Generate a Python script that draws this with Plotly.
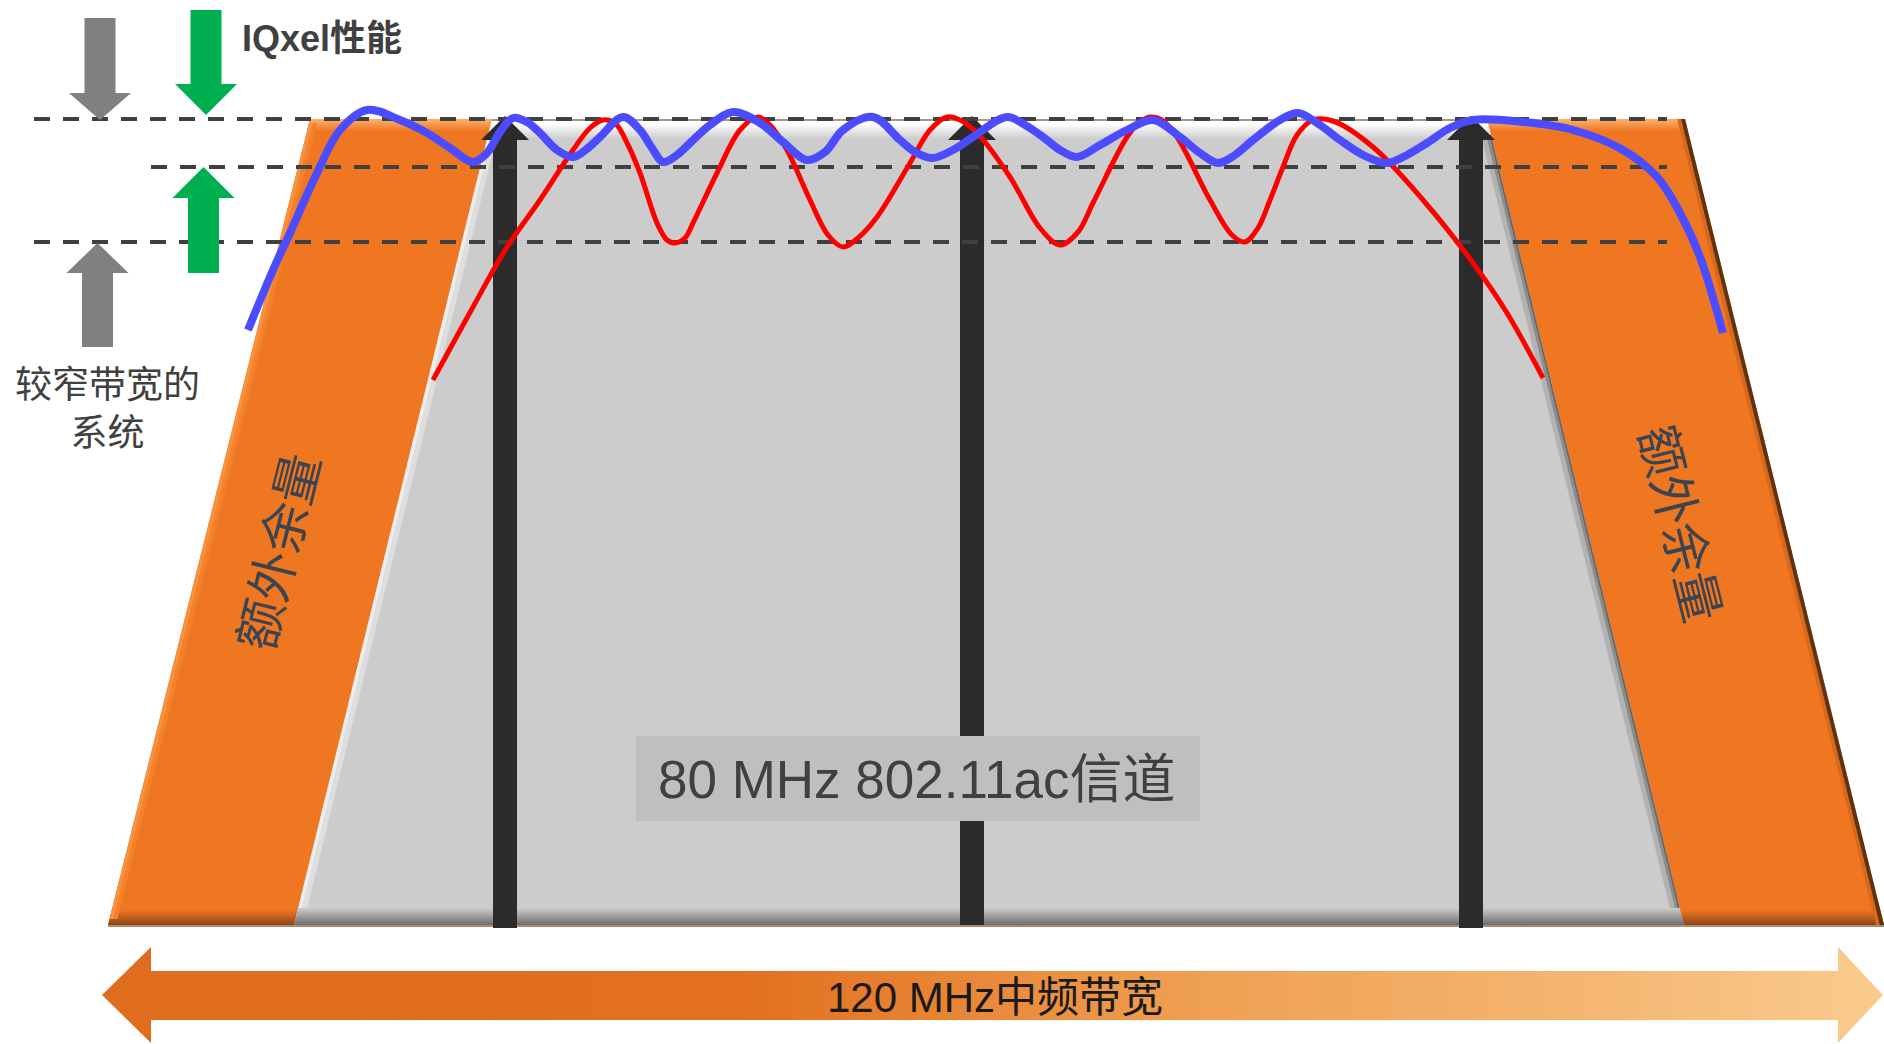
import plotly.graph_objects as go

W, H = 1884, 1044

# ---- response curves (horizontal position, level) in canvas units ----
wide_x = [248, 273, 290, 317, 340, 367, 400, 427, 450, 473, 487, 500, 513, 527, 540, 557,
          573, 588, 600, 623, 640, 652, 663, 677, 690, 710, 733, 760, 783, 807, 825, 843,
          873, 900, 915, 932, 953, 973, 1007, 1025, 1043, 1060, 1077, 1100, 1127, 1153,
          1180, 1200, 1218, 1235, 1253, 1280, 1298, 1320, 1340, 1363, 1387, 1407, 1427,
          1450, 1473, 1523, 1573, 1623, 1657, 1680, 1700, 1723]
wide_y = [330, 270, 233, 173, 130, 110, 120, 133, 148, 162, 153, 132, 118, 122, 133, 150,
          157, 148, 137, 117, 130, 148, 162, 155, 143, 125, 112, 123, 142, 160, 152, 130,
          117, 140, 152, 158, 150, 137, 117, 125, 137, 150, 157, 145, 130, 120,
          137, 153, 163, 155, 140, 120, 113, 125, 140, 155, 163, 155, 143,
          128, 120, 122, 130, 150, 177, 213, 257, 333]

narrow_x = [433, 473, 507, 540, 573, 590, 603, 615, 628, 640, 657, 667, 675, 685, 693, 717,
            740, 758, 770, 787, 810, 828, 843, 858, 877, 910, 930, 947, 960, 977, 1010,
            1040, 1060, 1078, 1093, 1127, 1140, 1150, 1162, 1177, 1210, 1232, 1245, 1258,
            1270, 1283, 1297, 1313, 1333, 1373, 1423, 1473, 1507, 1543]
narrow_y = [380, 307, 247, 200, 150, 128, 120, 123, 145, 173, 223, 240, 243, 238, 223, 173,
            130, 117, 125, 150, 200, 235, 247, 238, 217, 163, 130, 117, 120, 133, 177,
            228, 245, 232, 203, 137, 122, 117, 120, 137, 200, 235, 242, 228,
            200, 167, 135, 120, 121, 147, 200, 263, 313, 378]

# ---- reference levels for dashed guides ----
level_top, level_mid, level_low = 119, 167, 242

# ---- labels ----
label_perf = "<b>IQxel性能</b>"
label_narrow = "较窄带宽的<br>系统"
label_margin = "额外余量"
label_channel = "80 MHz 802.11ac信道"
label_if = "120 MHz中频带宽"

# ---- geometry of the band drawing ----
TOP, BOT = 119, 925
OUT_L = (310, 108)      # outer left edge x at TOP, BOT
OUT_R = (1685, 1884)    # outer right edge
IN_L = (492, 294)       # channel left edge
IN_R = (1487, 1684)     # channel right edge
CARRIERS = [505, 972, 1471]

ORANGE = "#F07722"
GRAY = "#CCCCCC"

fig = go.Figure()


def ex(edge, y):
    """x of a slanted edge at height y"""
    t = (y - TOP) / (BOT - TOP)
    return edge[0] + (edge[1] - edge[0]) * t


def poly(xs, ys, color, grad=None):
    kw = dict(x=list(xs) + [xs[0]], y=list(ys) + [ys[0]], mode="lines", fill="toself",
              line=dict(width=0, color=color), fillcolor=color,
              hoverinfo="skip", showlegend=False)
    if grad is not None:
        kw["fillgradient"] = grad
    fig.add_trace(go.Scatter(**kw))


def vgrad(c0, c1, y0, y1):
    return dict(type="vertical", colorscale=[[0, c0], [1, c1]], start=y0, stop=y1)


def strip(edge, y0, y1, d0, d1, color):
    xs = [ex(edge, y0) + d0, ex(edge, y0) + d1, ex(edge, y1) + d1, ex(edge, y1) + d0]
    poly(xs, [y0, y0, y1, y1], color)


# orange outer band
poly([OUT_L[0], OUT_R[0], OUT_R[1], OUT_L[1]], [TOP, TOP, BOT, BOT], ORANGE)
# orange bevels
poly([ex(OUT_L, TOP), ex(OUT_R, TOP), ex(OUT_R, 131), ex(OUT_L, 131)], [TOP, TOP, 131, 131],
     ORANGE, vgrad("#FBB26E", ORANGE, TOP, 131))
poly([ex(OUT_L, 910), ex(OUT_R, 910), ex(OUT_R, BOT), ex(OUT_L, BOT)], [910, 910, BOT, BOT],
     ORANGE, vgrad(ORANGE, "#8A4516", 910, BOT))
strip(OUT_L, TOP + 4, BOT - 6, 0, 4, "#F7913F")
strip(OUT_L, TOP + 4, BOT - 6, 4, 8, "#F3822E")
strip(OUT_R, TOP, BOT, -8, -4, "#D8691C")
strip(OUT_R, TOP, BOT, -4, 0, "#5C3414")

# channel (gray) trapezoid
poly([IN_L[0], IN_R[0], IN_R[1], IN_L[1]], [TOP, TOP, BOT, BOT], GRAY)
poly([ex(IN_L, 121), ex(IN_R, 121), ex(IN_R, 139), ex(IN_L, 139)], [121, 121, 139, 139],
     GRAY, vgrad("#FFFFFF", GRAY, 124, 139))
poly([ex(IN_L, TOP), ex(IN_R, TOP), ex(IN_R, 121), ex(IN_L, 121)], [TOP, TOP, 121, 121], "#A89888")
strip(IN_L, 135, BOT - 10, 0, 4, "#ECECEC")
strip(IN_L, 135, BOT - 10, 4, 9, "#DEDEDE")
strip(IN_R, 135, BOT - 6, -10, -5, "#B2B2B2")
strip(IN_R, 135, BOT - 6, -5, -2, "#8C8C8C")
strip(IN_R, 135, BOT - 6, -2, 0, "#666666")
poly([ex(IN_L, 908), ex(IN_R, 908), ex(IN_R, BOT), ex(IN_L, BOT)], [908, 908, BOT, BOT],
     GRAY, vgrad(GRAY, "#6E6E6E", 908, BOT))
fig.add_trace(go.Scatter(x=[OUT_L[1], OUT_R[1]], y=[BOT + 1, BOT + 1], mode="lines",
                         line=dict(color="#B08A6E", width=2), hoverinfo="skip", showlegend=False))

# carrier arrows
for cx, bottom in zip(CARRIERS, [928, 925, 928]):
    poly([cx - 12, cx + 12, cx + 12, cx - 12], [139, 139, bottom, bottom], "#2B2B2B")
    poly([cx - 24, cx + 24, cx], [140, 140, 116], "#2B2B2B")

# dashed reference levels
for y, x0 in [(level_top, 34), (level_mid, 151), (level_low, 34)]:
    fig.add_trace(go.Scatter(x=[x0, 1667], y=[y, y], mode="lines",
                             line=dict(color="#404040", width=4, dash="16px,13px"),
                             hoverinfo="skip", showlegend=False))


# level indicator arrows
def block_arrow(cx, tip, base, end, color, shaft_hw=15.5, head_hw=31):
    xs = [cx - shaft_hw, cx + shaft_hw, cx + shaft_hw, cx + head_hw, cx, cx - head_hw, cx - shaft_hw]
    ys = [end, end, base, base, tip, base, base]
    poly(xs, ys, color)


block_arrow(100, 120, 93, 18, "#808080")
block_arrow(206, 115, 84, 10, "#00B050")
block_arrow(203.5, 167, 198, 273, "#00B050")
block_arrow(97.5, 243, 273, 347, "#808080")

# channel label box
poly([636, 1200, 1200, 636], [736, 736, 821, 821], "#BFBFBF")

# IF bandwidth double arrow
poly([102, 151, 151, 1838, 1838, 1883, 1838, 1838, 151, 151],
     [995, 947, 971, 971, 947, 995, 1043, 1020, 1020, 1043], "#E06D1E",
     dict(type="horizontal", start=102, stop=1883,
          colorscale=[[0, "#E06D1E"], [0.36, "#E2701F"], [0.62, "#EFA052"],
                      [0.85, "#F5B874"], [1, "#FACB8E"]]))

# response curves
fig.add_trace(go.Scatter(x=narrow_x, y=narrow_y, mode="lines", line=dict(color="#FF0000", width=5, shape="spline", smoothing=1.0),
                         hoverinfo="skip", showlegend=False))
fig.add_trace(go.Scatter(x=wide_x, y=wide_y, mode="lines", line=dict(color="#4B4BFF", width=8, shape="spline", smoothing=1.0),
                         hoverinfo="skip", showlegend=False))

SANS = "Liberation Sans, Arial, Noto Sans CJK SC, sans-serif"
ann = [
    dict(x=240, y=38, text=label_perf, xanchor="left", yanchor="middle",
         font=dict(size=36, color="#404040")),
    dict(x=107, y=409, text=label_narrow, xanchor="center", yanchor="middle",
         font=dict(size=37, color="#404040")),
    dict(x=280, y=552, text=label_margin, textangle=-76, xanchor="center", yanchor="middle",
         font=dict(size=50, color="#3C4450")),
    dict(x=1679, y=524, text=label_margin, textangle=76, xanchor="center", yanchor="middle",
         font=dict(size=50, color="#3C4450")),
    dict(x=916, y=779, text=label_channel, xanchor="center", yanchor="middle",
         font=dict(size=53, color="#404040")),
    dict(x=995, y=997, text=label_if, xanchor="center", yanchor="middle",
         font=dict(size=42, color="#1A1A1A")),
]
for a in ann:
    a.update(xref="x", yref="y", showarrow=False)
    a["font"]["family"] = SANS

fig.update_layout(
    width=W, height=H, margin=dict(l=0, r=0, t=0, b=0),
    paper_bgcolor="white", plot_bgcolor="white",
    xaxis=dict(range=[0, W], visible=False, fixedrange=True),
    yaxis=dict(range=[H, 0], visible=False, fixedrange=True),
    annotations=ann, font=dict(family=SANS),
)

fig.write_html("out.html", config={"displayModeBar": False})
